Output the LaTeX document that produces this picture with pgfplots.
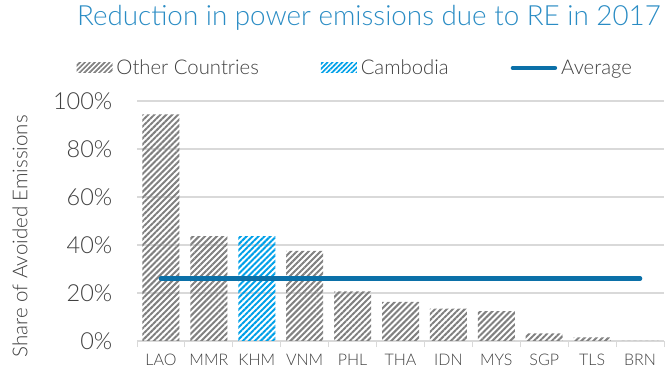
\documentclass[border=0pt]{standalone}
\usepackage{fontspec}
\setmainfont{Lato Light}
\usepackage{pgfplots}
\pgfplotsset{compat=1.18}
\usetikzlibrary{patterns.meta}
\definecolor{othgray}{HTML}{808080}
\definecolor{khmblue}{HTML}{00A0E8}
\definecolor{avgblue}{HTML}{0B70A8}
\definecolor{titleblue}{HTML}{2A8CC4}
\definecolor{gridgray}{HTML}{D9D9D9}
\definecolor{txtgray}{HTML}{404040}
\begin{document}
\begin{tikzpicture}
\useasboundingbox (0,0) rectangle (672bp,370bp);
\node[rotate=90, anchor=east, font=\fontsize{20.5bp}{23bp}\selectfont, text=txtgray, inner sep=0pt] at (20bp,255bp) {Share of Avoided Emissions};
\begin{axis}[
  at={(137bp,29bp)}, anchor=south west,
  scale only axis, width=527bp, height=240bp,
  xmin=-0.5, xmax=10.5, ymin=0, ymax=100,
  axis x line*=bottom, axis y line*=left,
  y axis line style={draw=none},
  x axis line style={draw=gridgray, line width=1bp},
  ytick={0,20,...,100},
  yticklabel={\pgfmathprintnumber{\tick}\%},
  /pgf/number format/assume math mode=true,
  yticklabel style={font=\fontsize{23.5bp}{25bp}\selectfont, text=txtgray, anchor=east, xshift=-17bp},
  major y tick style={draw=none},
  ymajorgrids, grid style={draw=gridgray, line width=1.5bp},
  xtick={0,...,10},
  xticklabels={LAO,MMR,KHM,VNM,PHL,THA,IDN,MYS,SGP,TLS,BRN},
  xticklabel style={font=\fontsize{16bp}{18bp}\selectfont, text=txtgray, yshift=-5bp},
  major x tick style={draw=none},
  minor xtick={-0.5,0.5,...,10.5},
  minor x tick style={draw=gridgray, line width=1bp},
  minor tick length=6bp, tick align=outside,
  title={\textcolor{titleblue}{Reduction in power emissions due to RE in 2017}},
  title style={at={(0.44,1.32)}, anchor=center, font=\fontsize{27.8bp}{30bp}\selectfont},
  legend columns=3,
  legend style={at={(0.414,1.1375)}, anchor=center, draw=none, fill=none,
    font=\fontsize{20.3bp}{22bp}\selectfont, text=txtgray,
    /tikz/every even column/.append style={column sep=60bp},
    /tikz/every odd column/.append style={column sep=2bp}},
  clip=false,
]
\addplot[ybar, bar width=37bp, bar shift=0pt, draw=none,
  pattern={Lines[angle=45,distance=4.2bp,line width=2bp]}, pattern color=othgray,
  legend image code/.code={\fill[pattern={Lines[angle=45,distance=3.5bp,line width=1.7bp]}, pattern color=othgray] (0bp,-5bp) rectangle (36bp,5bp);}]
  coordinates {(0,94.4) (1,43.7) (3,37.5) (4,20.7) (5,16.3) (6,13.5) (7,12.4) (8,3.2) (9,1.5) (10,0)};
\addlegendentry{Other Countries}
\addplot[ybar, bar width=37bp, bar shift=0pt, draw=none,
  pattern={Lines[angle=45,distance=4.2bp,line width=2bp]}, pattern color=khmblue,
  legend image code/.code={\fill[pattern={Lines[angle=45,distance=3.5bp,line width=1.7bp]}, pattern color=khmblue] (0bp,-5bp) rectangle (36bp,5bp);}]
  coordinates {(2,43.7)};
\addlegendentry{Cambodia}
\addplot[draw=avgblue, line width=4.5bp, line cap=round, mark=none,
  legend image code/.code={\draw[avgblue, line width=4.5bp, line cap=round] (0bp,0bp) -- (42bp,0bp);}]
  coordinates {(0,26) (10,26)};
\addlegendentry{Average}
\end{axis}
\end{tikzpicture}
\end{document}
